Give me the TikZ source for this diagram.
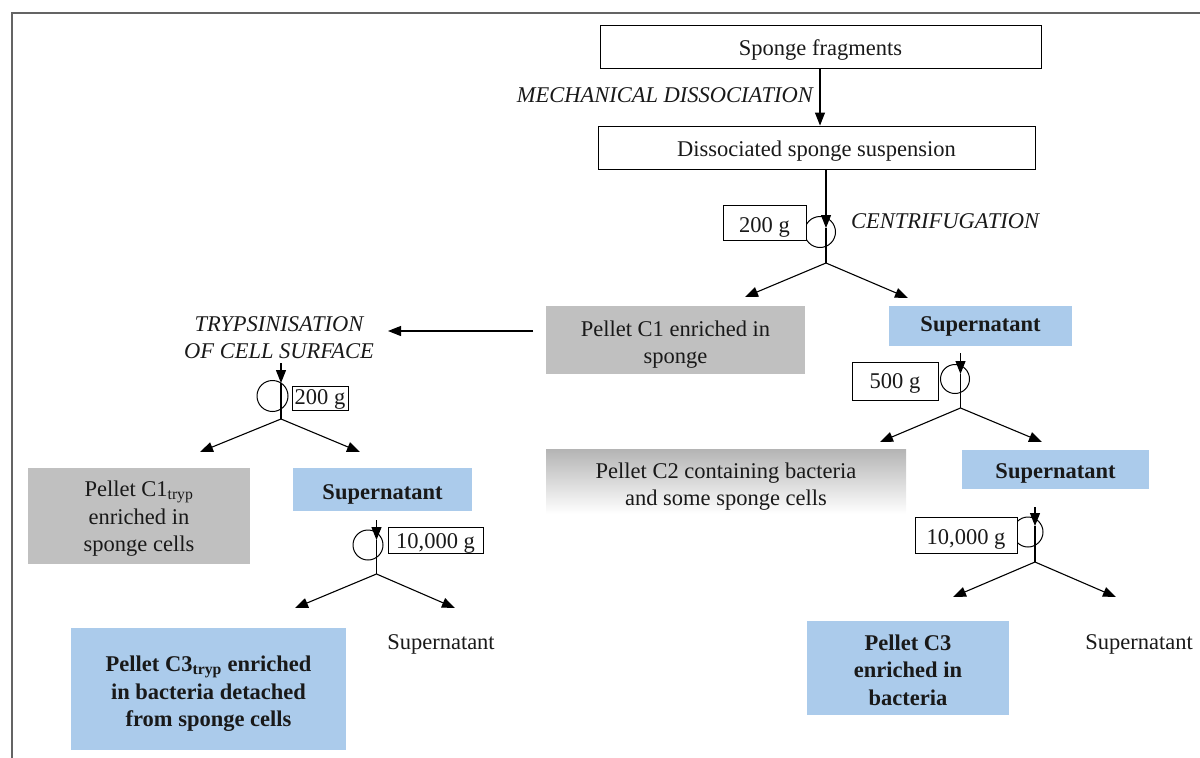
\documentclass[tikz,border=0pt]{standalone}
\usepackage{fontspec}
\setmainfont{Liberation Serif}
\usetikzlibrary{arrows.meta}
\definecolor{cellgray}{RGB}{192,192,192}
\definecolor{supblue}{RGB}{171,203,235}
\definecolor{framegray}{RGB}{100,100,100}
\definecolor{gradtop}{RGB}{180,180,180}
\newcommand\myup[1]{\rule{0pt}{#1pt}}
\begin{document}
\begin{tikzpicture}[x=1pt,y=-1pt,
  every node/.style={font=\fontsize{22.5}{27.5}\selectfont, inner sep=0pt, text=black!90},
  stepbox/.style={draw=black, line width=0.9pt, fill=white},
  graybox/.style={fill=cellgray, align=center},
  bluebox/.style={fill=supblue, align=center, font=\fontsize{22.5}{27.5}\selectfont\bfseries},
  gbox/.style={draw=black, line width=0.9pt, fill=white},
  conn/.style={line width=1.1pt, -{Triangle[length=13pt,width=10pt]}},
  plain/.style={line width=1.1pt},
  rotor/.style={line width=1pt},
  op/.style={font=\fontsize{22.5}{27.5}\selectfont\itshape}
]
\useasboundingbox (0,0) rectangle (1200,758);
% frame
\draw[framegray, line width=2pt] (12,760) -- (12,13) -- (1202,13);

% top boxes
\node[stepbox, minimum width=441pt, minimum height=43pt] (frag) at (820.5,46.5) {\myup{23.5}Sponge fragments};
\node[stepbox, minimum width=437pt, minimum height=43pt] (susp) at (816.5,147.5) {\myup{23.5}Dissociated sponge suspension};
\draw[conn] (frag.south -| 820,0) -- (susp.north -| 820,0);
\node[op, anchor=east] (mech) at (813,95) {MECHANICAL DISSOCIATION};

% first-level result boxes
\node[graybox, minimum width=259pt, minimum height=68pt] (c1) at (675.5,340) {\myup{25}Pellet C1 enriched in\\sponge};
\node[bluebox, minimum width=183pt, minimum height=40pt] (sup1) at (980.5,326) {Supernatant};

% centrifuge A
\coordinate (Atop) at (826,169);
\coordinate (Atip) at (826,228);
\coordinate (AJ) at (826,263);
\coordinate (AL) at (745,297);
\coordinate (AR) at (908,298);
\draw[rotor] (820,232) circle[radius=15.5];
\draw[conn] (Atop) -- (Atip);
\draw[plain] (Atip) -- (AJ);
\draw[conn] (AJ) -- (AL);
\draw[conn] (AJ) -- (AR);
\node[gbox, minimum width=83pt, minimum height=35pt] (gA) at (764.5,222.5) {\myup{25}200 g};
\node[op, anchor=west] (cent) at (851,221) {CENTRIFUGATION};

% trypsinisation
\node[op, align=center] (tryp) at (279,337.5) {TRYPSINISATION\\OF CELL SURFACE};
\coordinate (TrA) at (533,331);
\coordinate (TrB) at (388,331);
\draw[conn] (TrA) -- (TrB);

% centrifuge B (left)
\coordinate (Btop) at (281,363);
\coordinate (Btip) at (281,383);
\coordinate (BJ) at (281,419);
\coordinate (BL) at (200,452);
\coordinate (BR) at (360,452);
\draw[rotor] (272.5,396) circle[radius=15.5];
\draw[conn] (Btop) -- (Btip);
\draw[plain] (Btip) -- (BJ);
\draw[conn] (BJ) -- (BL);
\draw[conn] (BJ) -- (BR);
\node[gbox, minimum width=56pt, minimum height=24pt] (gB) at (320,398) {\myup{17.5}200 g};

\node[graybox, minimum width=222pt, minimum height=96pt] (c1t) at (139,516) {\myup{21.5}Pellet C1\textsubscript{tryp}\\enriched in\\sponge cells};
\node[bluebox, minimum width=179pt, minimum height=43pt] (sup2) at (382.5,489.5) {\myup{25}Supernatant};

% centrifuge C (left supernatant)
\coordinate (Ctop) at (376.5,520);
\coordinate (Ctip) at (376.5,540);
\coordinate (CJ) at (376.5,574);
\coordinate (CL) at (295,608);
\coordinate (CR) at (455,608);
\draw[rotor] (368,545) circle[radius=15];
\draw[conn] (Ctop) -- (Ctip);
\draw[plain] (Ctip) -- (CJ);
\draw[conn] (CJ) -- (CL);
\draw[conn] (CJ) -- (CR);
\node[gbox, minimum width=95pt, minimum height=25pt] (gC) at (435.5,540.5) {\myup{21.5}10,000 g};

\node[bluebox, minimum width=275pt, minimum height=122pt] (c3t) at (208.5,689) {\myup{25}Pellet C3\textsubscript{tryp} enriched\\in bacteria detached\\from sponge cells};
\node (sn1) at (441,644) {Supernatant};

% centrifuge D (right)
\coordinate (Dtop) at (960.5,353);
\coordinate (Dtip) at (960.5,374);
\coordinate (DJ) at (960.5,408);
\coordinate (DL) at (880,442);
\coordinate (DR) at (1042,442);
\draw[rotor] (955,379) circle[radius=14.5];
\draw[conn] (Dtop) -- (Dtip);
\draw[plain] (Dtip) -- (DJ);
\draw[conn] (DJ) -- (DL);
\draw[conn] (DJ) -- (DR);
\node[gbox, minimum width=86pt, minimum height=38pt] (gD) at (895,381) {\myup{19.5}500 g};

\node[top color=gradtop, bottom color=white, align=center, minimum width=360pt, minimum height=65pt] (c2) at (726,481.5) {\myup{25.5}Pellet C2 containing bacteria\\and some sponge cells};
\node[bluebox, minimum width=187pt, minimum height=39pt] (sup3) at (1055.5,469.5) {\myup{23.5}Supernatant};

% centrifuge E (right supernatant)
\coordinate (Etop) at (1035,507);
\coordinate (Etip) at (1035,526);
\coordinate (EJ) at (1035,562);
\coordinate (EL) at (953,597);
\coordinate (ER) at (1116,597);
\draw[rotor] (1028,532) circle[radius=15];
\draw[conn] (Etop) -- (Etip);
\draw[plain] (Etip) -- (EJ);
\draw[conn] (EJ) -- (EL);
\draw[conn] (EJ) -- (ER);
\node[gbox, minimum width=102pt, minimum height=36pt] (gE) at (966,535) {\myup{23.5}10,000 g};

\node[bluebox, minimum width=202pt, minimum height=94pt] (c3) at (908,668) {\myup{19.5}Pellet C3\\enriched in\\bacteria};
\node (sn2) at (1139,644) {Supernatant};
\end{tikzpicture}
\end{document}
